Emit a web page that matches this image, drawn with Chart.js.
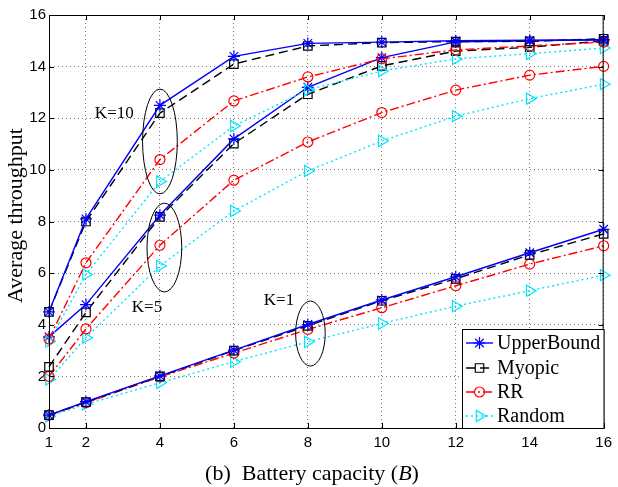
<!DOCTYPE html>
<html>
<head>
<meta charset="utf-8">
<script src="https://cdn.jsdelivr.net/npm/chart.js@4.4.0/dist/chart.umd.min.js"></script>
<style>
  html, body { margin: 0; padding: 0; background: #fff; }
  #wrap { width: 618px; height: 487px; position: relative; }
</style>
</head>
<body>
<div id="wrap"><canvas id="throughputChart"></canvas></div>
<script>
// battery capacity B (x axis)
const capacity = [1, 2, 4, 6, 8, 10, 12, 14, 16];
const xTicks = [1, 2, 4, 6, 8, 10, 12, 14, 16];

// K = 10
const upperK10  = [4.5, 8.1, 12.5, 14.4, 14.9, 14.95, 15.0, 15.02, 15.03];
const myopicK10 = [4.5, 8.0, 12.2, 14.1, 14.8, 14.93, 14.97, 14.98, 15.08];
const rrK10     = [3.45, 6.4, 10.4, 12.67, 13.6, 14.3, 14.65, 14.8, 14.95];
const randomK10 = [3.35, 5.95, 9.55, 11.7, 13.1, 13.83, 14.3, 14.5, 14.72];

// K = 5
const upperK5  = [3.53, 4.78, 8.25, 11.2, 13.2, 14.35, 14.96, 15.0, 15.05];
const myopicK5 = [2.37, 4.48, 8.18, 11.02, 12.93, 14.03, 14.6, 14.75, 15.0];
const rrK5     = [2.0, 3.84, 7.08, 9.6, 11.08, 12.22, 13.09, 13.67, 14.01];
const randomK5 = [1.88, 3.5, 6.28, 8.41, 9.96, 11.12, 12.08, 12.76, 13.32];

// K = 1
const upperK1  = [0.5, 1.02, 2.02, 3.02, 4.01, 4.96, 5.86, 6.79, 7.7];
const myopicK1 = [0.5, 1.0, 2.0, 3.0, 3.96, 4.93, 5.78, 6.71, 7.52];
const rrK1     = [0.5, 0.98, 1.98, 2.9, 3.82, 4.66, 5.51, 6.35, 7.06];
const randomK1 = [0.45, 0.92, 1.75, 2.57, 3.34, 4.05, 4.72, 5.32, 5.92];

const methods = ['UpperBound', 'Myopic', 'RR', 'Random'];

const methodStyles = {
    UpperBound: { color: '#0000ff', dash: [],           pointStyle: 'star',     radius: 6,   rotation: 0 },
    Myopic:     { color: '#000000', dash: [9, 5],       pointStyle: 'rect',     radius: 6,   rotation: 0 },
    RR:         { color: '#ff0000', dash: [9, 3, 2, 3], pointStyle: 'circle',   radius: 5,   rotation: 0 },
    Random:     { color: '#00e5ff', dash: [2, 3],       pointStyle: 'triangle', radius: 6.5, rotation: 90 }
};

const groups = [
    { k: 10, series: { UpperBound: upperK10, Myopic: myopicK10, RR: rrK10, Random: randomK10 } },
    { k: 5,  series: { UpperBound: upperK5,  Myopic: myopicK5,  RR: rrK5,  Random: randomK5 } },
    { k: 1,  series: { UpperBound: upperK1,  Myopic: myopicK1,  RR: rrK1,  Random: randomK1 } }
];

// ellipses + K labels, in data units
const annotations = [
    { label: 'K=10', lx: 2.24, ly: 12.2, cx: 4.0,  cy: 11.1, rx: 0.47, ry: 2.03 },
    { label: 'K=5',  lx: 3.24, ly: 4.65, cx: 4.12, cy: 6.99, rx: 0.47, ry: 1.72 },
    { label: 'K=1',  lx: 6.81, ly: 4.92, cx: 8.07, cy: 3.66, rx: 0.40, ry: 1.26 }
];

const datasets = [];
groups.forEach(group => {
    methods.forEach(name => {
        const st = methodStyles[name];
        datasets.push({
            label: name + ' K=' + group.k,
            data: capacity.map((b, i) => ({ x: b, y: group.series[name][i] })),
            borderColor: st.color,
            borderWidth: 1.4,
            borderDash: st.dash,
            pointStyle: st.pointStyle,
            pointRadius: st.radius,
            pointRotation: st.rotation,
            pointBorderColor: st.color,
            pointBackgroundColor: 'rgba(0,0,0,0)',
            pointBorderWidth: 1.2,
            tension: 0,
            fill: false,
            clip: false
        });
    });
});

function drawMarker(ctx, st, x, y) {
    ctx.save();
    ctx.setLineDash([]);
    ctx.strokeStyle = st.color;
    ctx.fillStyle = 'rgba(0,0,0,0)';
    ctx.lineWidth = 1.2;
    Chart.helpers.drawPoint(ctx, { pointStyle: st.pointStyle, rotation: st.rotation, radius: st.radius, borderWidth: 1.2 }, x, y);
    ctx.restore();
}

const decorPlugin = {
    id: 'decor',
    afterDatasetsDraw(chart) {
        const ctx = chart.ctx;
        const xs = chart.scales.x, ys = chart.scales.y;
        const area = chart.chartArea;

        // ellipses and K labels
        ctx.save();
        ctx.setLineDash([]);
        ctx.strokeStyle = '#000';
        ctx.lineWidth = 1;
        ctx.fillStyle = '#000';
        ctx.font = '17px "Liberation Serif", serif';
        ctx.textBaseline = 'middle';
        annotations.forEach(a => {
            const cx = xs.getPixelForValue(a.cx), cy = ys.getPixelForValue(a.cy);
            const rx = Math.abs(xs.getPixelForValue(a.cx + a.rx) - cx);
            const ry = Math.abs(ys.getPixelForValue(a.cy + a.ry) - cy);
            ctx.beginPath();
            ctx.ellipse(cx, cy, rx, ry, 0, 0, Math.PI * 2);
            ctx.stroke();
            ctx.fillText(a.label, xs.getPixelForValue(a.lx), ys.getPixelForValue(a.ly));
        });
        ctx.restore();

        // frame + inner tick marks
        ctx.save();
        ctx.strokeStyle = '#000';
        ctx.lineWidth = 1;
        ctx.strokeRect(area.left + 0.5, area.top + 0.5, area.right - area.left - 1, area.bottom - area.top);
        ctx.beginPath();
        xs.ticks.forEach(t => {
            const px = Math.round(xs.getPixelForValue(t.value)) + 0.5;
            ctx.moveTo(px, area.bottom); ctx.lineTo(px, area.bottom - 5);
            ctx.moveTo(px, area.top); ctx.lineTo(px, area.top + 5);
        });
        ys.ticks.forEach(t => {
            const py = Math.round(ys.getPixelForValue(t.value)) + 0.5;
            ctx.moveTo(area.left, py); ctx.lineTo(area.left + 5, py);
            ctx.moveTo(area.right, py); ctx.lineTo(area.right - 5, py);
        });
        ctx.stroke();
        ctx.restore();

        // legend box
        const bx = 462, by = 329, bw = area.right - 462, bh = area.bottom - 329;
        ctx.save();
        ctx.fillStyle = '#fff';
        ctx.fillRect(bx, by, bw, bh);
        ctx.strokeStyle = '#000';
        ctx.lineWidth = 1;
        ctx.strokeRect(bx + 0.5, by + 0.5, bw, bh);
        ctx.font = '20px "Liberation Serif", serif';
        ctx.textBaseline = 'middle';
        ctx.fillStyle = '#000';
        const rowY = [343, 368, 392, 416];
        methods.forEach((name, i) => {
            const st = methodStyles[name];
            const y = rowY[i];
            ctx.save();
            ctx.strokeStyle = st.color;
            ctx.lineWidth = 1.4;
            ctx.setLineDash(st.dash);
            ctx.beginPath();
            ctx.moveTo(466, y);
            ctx.lineTo(493, y);
            ctx.stroke();
            ctx.restore();
            drawMarker(ctx, st, 479.5, y);
            ctx.fillText(name, 497, y + 1);
        });
        ctx.restore();
    },
    afterDraw(chart) {
        const ctx = chart.ctx;
        const area = chart.chartArea;
        ctx.save();
        ctx.fillStyle = '#000';
        // y title
        ctx.font = '22px "Liberation Serif", serif';
        ctx.textAlign = 'center';
        ctx.textBaseline = 'middle';
        ctx.translate(16, (area.top + area.bottom) / 2 - 6);
        ctx.rotate(-Math.PI / 2);
        ctx.fillText('Average throughput', 0, 0);
        ctx.restore();

        // x title with italic B
        ctx.save();
        ctx.fillStyle = '#000';
        ctx.textBaseline = 'alphabetic';
        const normal = '22px "Liberation Serif", serif';
        const italic = 'italic 22px "Liberation Serif", serif';
        const parts = [['(b)  Battery capacity (', normal], ['B', italic], [')', normal]];
        let total = 0;
        parts.forEach(p => { ctx.font = p[1]; total += ctx.measureText(p[0]).width; });
        let x = 312 - total / 2;
        parts.forEach(p => {
            ctx.font = p[1];
            ctx.fillText(p[0], x, 480);
            x += ctx.measureText(p[0]).width;
        });
        ctx.restore();
    }
};

new Chart(document.getElementById('throughputChart'), {
    type: 'line',
    data: { datasets: datasets },
    options: {
        responsive: true,
        maintainAspectRatio: false,
        animation: false,
        layout: { padding: { top: 15, right: 11, left: 0, bottom: 0 } },
        plugins: {
            legend: { display: false },
            tooltip: { enabled: false }
        },
        scales: {
            x: {
                type: 'linear',
                min: 1,
                max: 16,
                afterBuildTicks: axis => { axis.ticks = xTicks.map(v => ({ value: v })); },
                afterFit: axis => { axis.height = 59; },
                grid: { color: '#777', lineWidth: 1, drawTicks: false },
                border: { color: '#000', width: 1, dash: [1, 3] },
                ticks: {
                    color: '#000',
                    padding: 6,
                    maxRotation: 0,
                    autoSkip: false,
                    font: { family: '"Liberation Sans", Arial, sans-serif', size: 15 }
                }
            },
            y: {
                min: 0,
                max: 16,
                afterFit: axis => { axis.width = 49; },
                grid: { color: '#777', lineWidth: 1, drawTicks: false },
                border: { color: '#000', width: 1, dash: [1, 3] },
                ticks: {
                    stepSize: 2,
                    color: '#000',
                    padding: 3,
                    font: { family: '"Liberation Sans", Arial, sans-serif', size: 15 }
                }
            }
        }
    },
    plugins: [decorPlugin]
});
</script>
</body>
</html>
